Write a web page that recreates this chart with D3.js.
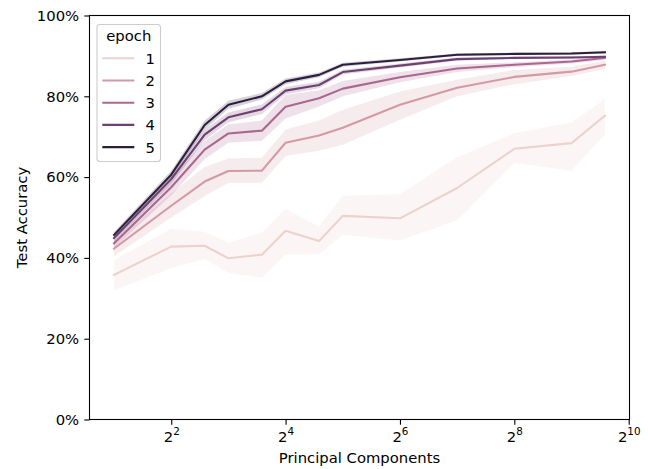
<!DOCTYPE html>
<html><head><meta charset="utf-8">
<script src="https://cdn.jsdelivr.net/npm/d3@7"></script>
<style>
body{margin:0;background:#fff}
text{font-family:"DejaVu Sans",sans-serif;fill:#000}
</style>
</head><body>
<svg id="c" width="648" height="469"></svg>
<script>
// ---------- data ----------
const components = [2,4,6,8,12,16,24,32,64,128,256,512,768];
const epochs = [1,2,3,4,5];
const xTickValues = [4,16,64,256,1024];
const xTickExponents = ["2","4","6","8","10"];
const yTickValues = [0,0.2,0.4,0.6,0.8,1.0];

const epoch1Mean = [35.8,42.8,43.0,39.9,40.8,46.7,44.2,50.4,49.8,57.3,67.0,68.4,75.2];
const epoch1Low  = [31.9,37.5,39.7,36.4,35.0,40.8,40.9,45.7,44.3,49.3,63.5,61.6,70.5];
const epoch1High = [39.5,47.2,46.5,43.8,46.3,52.1,47.8,55.4,55.8,64.9,70.9,73.5,79.4];

const epoch2Mean = [42.3,52.9,58.9,61.5,61.6,68.5,70.3,72.2,77.9,82.1,84.8,86.1,87.8];
const epoch2Low  = [40.5,50.0,55.3,58.6,58.6,65.2,66.5,68.0,74.2,80.0,83.0,85.0,86.8];
const epoch2High = [44.0,56.0,62.5,64.6,64.8,71.8,74.0,76.7,81.2,84.1,86.5,87.3,88.8];

const epoch3Mean = [43.6,57.5,66.8,70.8,71.5,77.4,79.5,81.9,84.7,86.9,87.8,88.6,89.5];
const epoch3Low  = [42.5,55.5,64.5,68.5,69.0,74.5,77.5,80.0,83.5,86.0,87.2,88.1,89.0];
const epoch3High = [44.7,59.5,69.0,73.0,74.0,80.3,81.5,83.8,86.0,87.8,88.4,89.1,90.0];

const epoch4Mean = [44.9,59.5,70.5,74.8,76.8,81.4,82.8,86.0,87.6,89.2,89.5,89.6,89.8];
const epoch4Low  = [44.1,58.2,69.2,73.6,75.6,80.5,82.0,85.4,87.1,88.8,89.2,89.3,89.5];
const epoch4High = [45.7,60.8,71.8,76.0,78.0,82.3,83.6,86.6,88.1,89.6,89.8,89.9,90.1];

const epoch5Mean = [45.7,60.6,72.9,77.9,80.0,83.7,85.3,87.8,89.0,90.3,90.5,90.6,90.9];
const epoch5Low  = [45.0,59.6,71.8,76.9,79.2,83.0,84.7,87.3,88.6,90.0,90.2,90.3,90.6];
const epoch5High = [46.4,61.6,74.0,78.9,80.8,84.4,85.9,88.3,89.4,90.6,90.8,90.9,91.2];

const meanSeries = [epoch1Mean,epoch2Mean,epoch3Mean,epoch4Mean,epoch5Mean];
const lowSeries  = [epoch1Low,epoch2Low,epoch3Low,epoch4Low,epoch5Low];
const highSeries = [epoch1High,epoch2High,epoch3High,epoch4High,epoch5High];

// ---------- colours (seaborn default cubehelix) ----------
function cubehelix(x){
  const start=0, rot=0.4, gamma=1, hue=0.8;
  const xg = Math.pow(x,gamma);
  const a = hue*xg*(1-xg)/2;
  const phi = 2*Math.PI*(start/3 + rot*x);
  const f=(p0,p1)=>Math.max(0,Math.min(1, xg + a*(p0*Math.cos(phi)+p1*Math.sin(phi))));
  return d3.rgb(255*f(-0.14861,1.78277),255*f(-0.29227,-0.90649),255*f(1.97294,0)).formatHex();
}
const color = d3.scaleLinear().domain([1,5]).range([0.85,0.15]);
const epochColor = e => cubehelix(color(e));

// ---------- layout ----------
const FS = 14.8;
const L=89.5, R=629.5, T=15.5, B=419.5;
const svg = d3.select("#c");

const lmin = Math.log2(d3.min(components)), lmax = Math.log2(d3.max(components));
const m = 0.05*(lmax-lmin);
const x = d3.scaleLog().base(2).domain([Math.pow(2,lmin-m), Math.pow(2,lmax+m)]).range([L,R]);
const y = d3.scaleLinear().domain([0,1]).range([B,T]);

const tables = epochs.map((e,i)=>components.map((c,j)=>({x:c, m:meanSeries[i][j]/100, lo:lowSeries[i][j]/100, hi:highSeries[i][j]/100})));

const area = d3.area().x(d=>x(d.x)).y0(d=>y(d.lo)).y1(d=>y(d.hi));
const line = d3.line().x(d=>x(d.x)).y(d=>y(d.m));

const gPlot = svg.append("g");
epochs.forEach((e,i)=>{
  gPlot.append("path").attr("d",area(tables[i])).attr("fill",epochColor(e)).attr("fill-opacity",0.2).attr("stroke","none");
});
epochs.forEach((e,i)=>{
  gPlot.append("path").attr("d",line(tables[i])).attr("fill","none").attr("stroke",epochColor(e))
    .attr("stroke-width",2.1).attr("stroke-linejoin","round").attr("stroke-linecap","square");
});

// ---------- axes ----------
const TL = 5.2, TP = 5.2;
const yAxis = svg.append("g").attr("transform",`translate(${L},0)`)
  .call(d3.axisLeft(y).tickValues(yTickValues).tickFormat(d3.format(".0%")).tickSize(TL).tickPadding(TP));
yAxis.select(".domain").remove();
yAxis.selectAll("line").attr("stroke","#000").attr("stroke-width",1.1);
yAxis.selectAll("text").attr("font-size",FS).attr("font-family","DejaVu Sans").attr("fill","#000");

const xAxis = svg.append("g").attr("transform",`translate(0,${B})`)
  .call(d3.axisBottom(x).tickValues(xTickValues).tickFormat(()=>"").tickSize(TL));
xAxis.select(".domain").remove();
xAxis.selectAll("line").attr("stroke","#000").attr("stroke-width",1.1);
xAxis.selectAll(".tick").each(function(d,i){
  const t = d3.select(this).append("text").attr("text-anchor","middle").attr("y",22)
    .attr("font-size",FS).attr("font-family","DejaVu Sans").attr("fill","#000");
  t.append("tspan").text("2");
  t.append("tspan").attr("font-size",FS*0.7).attr("dy",-6.8).text(xTickExponents[i]);
});

// frame
svg.append("rect").attr("x",L).attr("y",T).attr("width",R-L).attr("height",B-T)
  .attr("fill","none").attr("stroke","#000").attr("stroke-width",1.1);

// axis labels
svg.append("text").attr("x",(L+R)/2).attr("y",462.5).attr("text-anchor","middle").attr("font-size",FS).text("Principal Components");
svg.append("text").attr("transform",`translate(26.5,${(T+B)/2}) rotate(-90)`).attr("text-anchor","middle").attr("font-size",FS).text("Test Accuracy");

// ---------- legend ----------
const lg = svg.append("g");
lg.append("rect").attr("x",97).attr("y",24.5).attr("width",63.5).attr("height",137).attr("rx",3)
  .attr("fill","#fff").attr("fill-opacity",0.8).attr("stroke","#cccccc").attr("stroke-width",1.1);
lg.append("text").attr("x",128.8).attr("y",41).attr("text-anchor","middle").attr("font-size",FS).text("epoch");
epochs.forEach((e,i)=>{
  const yy = 58.3 + i*22.2;
  lg.append("line").attr("x1",102.3).attr("x2",134.3).attr("y1",yy).attr("y2",yy)
    .attr("stroke",epochColor(e)).attr("stroke-width",2.1);
  lg.append("text").attr("x",145.5).attr("y",yy+5.4).attr("font-size",FS).text(e);
});
</script>
</body></html>
